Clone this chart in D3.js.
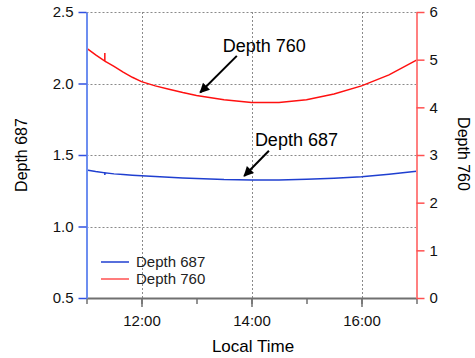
<!DOCTYPE html>
<html>
<head>
<meta charset="utf-8">
<script src="https://cdn.jsdelivr.net/npm/d3@7"></script>
<style>
  body { margin: 0; background: #fff; }
  text { font-family: Arial, "Liberation Sans", sans-serif; }
</style>
</head>
<body>
<div id="chart"></div>
<script>
// readings (local time)
const times = ["11:00","11:10","11:20","11:20","11:20","11:30","11:40","11:50","12:00","12:15","12:30","12:45","13:00","13:30","14:00","14:30","15:00","15:30","16:00","16:30","17:00"];
const depth687 = [1.395,1.384,1.375,1.360,1.375,1.368,1.364,1.359,1.355,1.350,1.345,1.340,1.336,1.328,1.325,1.325,1.330,1.338,1.348,1.366,1.386];
const depth760 = [5.24,5.10,4.97,5.14,4.97,4.86,4.74,4.63,4.54,4.45,4.38,4.31,4.25,4.16,4.10,4.10,4.16,4.28,4.45,4.68,4.99];

const leftTicks = [0.5, 1.0, 1.5, 2.0, 2.5];
const rightTicks = [0, 1, 2, 3, 4, 5, 6];
const hourTicks = ["11:00","12:00","13:00","14:00","15:00","16:00","17:00"];
const labelTicks = ["12:00","14:00","16:00"];

const W = 475, H = 358;
const parse = d3.timeParse("%H:%M");
const fmt = d3.timeFormat("%H:%M");

const x = d3.scaleTime().domain([parse("11:00"), parse("17:00")]).range([86.5, 416.5]);
const yL = d3.scaleLinear().domain([0.5, 2.5]).range([298, 12]);
const yR = d3.scaleLinear().domain([0, 6]).range([298, 12]);

const svg = d3.select("#chart").append("svg").attr("width", W).attr("height", H);

// grid
const grid = svg.append("g").attr("stroke", "#8a8a8a").attr("stroke-dasharray", "2,2").attr("stroke-width", 1);
grid.selectAll(".gh").data(leftTicks.slice(1)).join("line")
  .attr("x1", x.range()[0]).attr("x2", x.range()[1])
  .attr("y1", d => Math.round(yL(d)) + 0.5).attr("y2", d => Math.round(yL(d)) + 0.5);
grid.selectAll(".gv").data(labelTicks).join("line")
  .attr("x1", d => Math.round(x(parse(d))) + 0.5).attr("x2", d => Math.round(x(parse(d))) + 0.5)
  .attr("y1", 12).attr("y2", 298);

// series
const line687 = d3.line().x((d, i) => x(parse(times[i]))).y(d => yL(d));
const line760 = d3.line().x((d, i) => x(parse(times[i]))).y(d => yR(d));
svg.append("path").datum(depth687).attr("d", line687).attr("fill", "none").attr("stroke", "#1f3fd0").attr("stroke-width", 1.5);
svg.append("path").datum(depth760).attr("d", line760).attr("fill", "none").attr("stroke", "#ff1010").attr("stroke-width", 1.5);

// bottom axis
const xMajor = d3.axisBottom(x).tickValues(labelTicks.map(parse)).tickFormat(fmt).tickSize(9).tickSizeOuter(0);
const xMinor = d3.axisBottom(x).tickValues(hourTicks.map(parse)).tickFormat("").tickSize(6).tickSizeOuter(0);
const gxm = svg.append("g").attr("transform", "translate(0,298)").call(xMinor);
gxm.select(".domain").attr("stroke", "#707070").attr("stroke-width", 2);
gxm.selectAll(".tick line").attr("stroke", "#707070").attr("stroke-width", 1.5);
const gx = svg.append("g").attr("transform", "translate(0,298)").call(xMajor);
gx.select(".domain").remove();
gx.selectAll(".tick line").attr("stroke", "#707070").attr("stroke-width", 1.5);
gx.selectAll(".tick text").attr("font-size", 15).attr("fill", "#111").attr("dy", "1.05em");

// left axis
const gl = svg.append("g").attr("transform", "translate(86.5,0)")
  .call(d3.axisLeft(yL).tickValues(leftTicks).tickFormat(d3.format(".1f")).tickSize(8).tickSizeOuter(0));
gl.select(".domain").attr("stroke", "#6d8ef0").attr("stroke-width", 2);
gl.selectAll(".tick line").attr("stroke", "#3050e0").attr("stroke-width", 1.5);
gl.selectAll(".tick text").attr("font-size", 15).attr("fill", "#111").attr("x", -13);

// right axis
const gr = svg.append("g").attr("transform", "translate(416.5,0)")
  .call(d3.axisRight(yR).tickValues(rightTicks).tickFormat(d3.format("d")).tickSize(8).tickSizeOuter(0));
gr.select(".domain").attr("stroke", "#ff8080").attr("stroke-width", 2);
gr.selectAll(".tick line").attr("stroke", "#ff5050").attr("stroke-width", 1.5);
gr.selectAll(".tick text").attr("font-size", 15).attr("fill", "#111").attr("x", 13);

// axis titles
svg.append("text").attr("transform", "translate(27,155) rotate(-90)").attr("text-anchor", "middle")
  .attr("font-size", 16).text("Depth 687");
svg.append("text").attr("transform", "translate(458,154) rotate(90)").attr("text-anchor", "middle")
  .attr("font-size", 16).text("Depth 760");
svg.append("text").attr("x", 253).attr("y", 352).attr("text-anchor", "middle")
  .attr("font-size", 17).text("Local Time");

// annotations
svg.append("defs").append("marker").attr("id", "ah").attr("viewBox", "0 0 10 10")
  .attr("refX", 9).attr("refY", 5).attr("markerWidth", 6).attr("markerHeight", 5)
  .attr("markerUnits", "strokeWidth").attr("orient", "auto")
  .append("path").attr("d", "M0,0 L10,5 L0,10 Z").attr("fill", "#000");

const notes = [
  {label: "Depth 760", scale: yR, text: ["14:14", 5.17], from: ["13:44", 5.08], to: ["13:04", 4.31]},
  {label: "Depth 687", scale: yL, text: ["14:49", 1.563], from: ["14:19", 1.53], to: ["13:52", 1.353]}
];
notes.forEach(n => {
  svg.append("line")
    .attr("x1", x(parse(n.from[0]))).attr("y1", n.scale(n.from[1]))
    .attr("x2", x(parse(n.to[0]))).attr("y2", n.scale(n.to[1]))
    .attr("stroke", "#000").attr("stroke-width", 2).attr("marker-end", "url(#ah)");
  svg.append("text").attr("x", x(parse(n.text[0]))).attr("y", n.scale(n.text[1]))
    .attr("text-anchor", "middle").attr("font-size", 18).text(n.label);
});

// legend
const legend = [
  {name: "Depth 687", color: "#1f3fd0"},
  {name: "Depth 760", color: "#ff5050"}
];
const lg = svg.append("g").attr("transform", "translate(101,262)");
lg.selectAll("line").data(legend).join("line")
  .attr("x1", 0).attr("x2", 28).attr("y1", (d, i) => i * 17).attr("y2", (d, i) => i * 17)
  .attr("stroke", d => d.color).attr("stroke-width", 1.5);
lg.selectAll("text").data(legend).join("text")
  .attr("x", 35).attr("y", (d, i) => i * 17 + 5).attr("font-size", 15).attr("fill", "#222").text(d => d.name);
</script>
</body>
</html>
